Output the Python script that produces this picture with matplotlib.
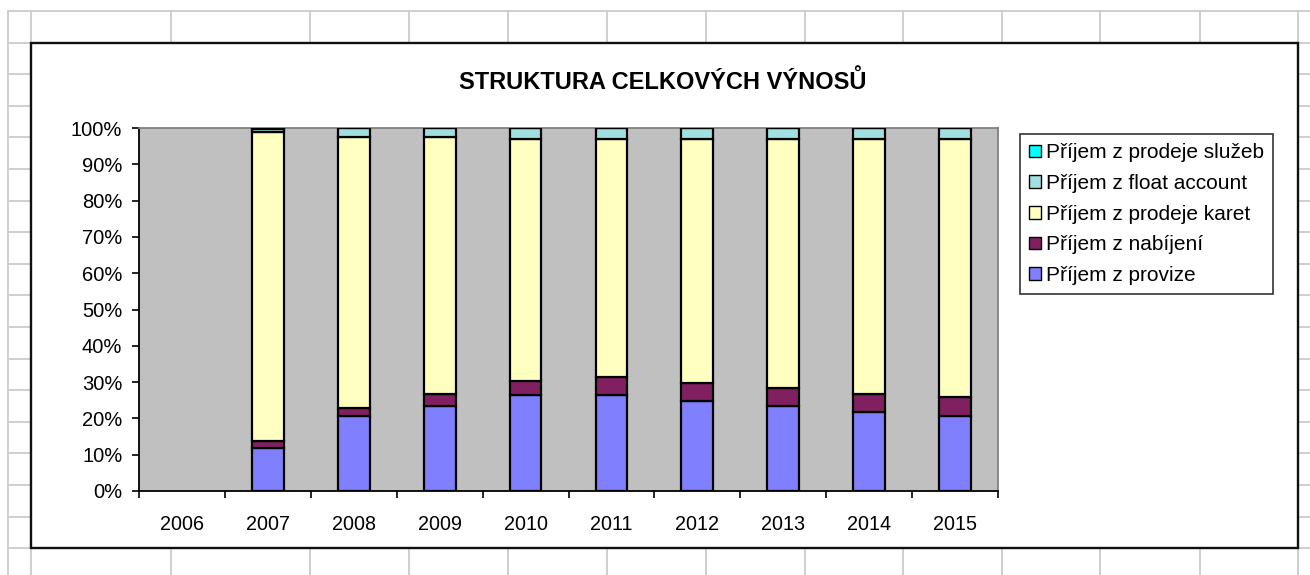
import numpy as np
import matplotlib
matplotlib.use("Agg")
import matplotlib.pyplot as plt
from matplotlib.patches import Rectangle, Patch
from matplotlib.lines import Line2D
from matplotlib.ticker import FuncFormatter

plt.rcParams['font.family'] = ['Liberation Sans', 'DejaVu Sans']

# ---- data (percent shares) ----
years = ["2006", "2007", "2008", "2009", "2010", "2011", "2012", "2013", "2014", "2015"]
series_names = ["Příjem z provize", "Příjem z nabíjení", "Příjem z prodeje karet",
                "Příjem z float account", "Příjem z prodeje služeb"]
provize = [0, 11.9, 20.7, 23.4, 26.4, 26.4, 24.9, 23.4, 21.8, 20.7]
nabijeni = [0, 2.0, 2.3, 3.3, 4.0, 5.0, 4.9, 4.9, 4.9, 5.1]
karet = [0, 85.1, 74.4, 70.7, 66.5, 65.5, 67.1, 68.6, 70.2, 71.1]
float_account = [0, 0.6, 2.5, 2.5, 3.0, 3.0, 3.0, 3.0, 3.0, 3.0]
sluzeb = [0, 0.4, 0.1, 0.1, 0.1, 0.1, 0.1, 0.1, 0.1, 0.1]
colors = ["#8080FF", "#802060", "#FFFFC0", "#A0E0E0", "#00FFFF"]
title = "STRUKTURA CELKOVÝCH VÝNOSŮ"

W, H = 1310, 575
fig = plt.figure(figsize=(W / 100, H / 100), dpi=100)
fig.patch.set_facecolor("white")

def fx(px):
    return px / W

def fy(py):
    return 1 - py / H

# spreadsheet grid background
grid_col = "#CCCCCC"
col_x = [8, 31, 171, 310, 409, 508, 607, 706, 805, 903, 1002, 1100, 1200, 1298]
for xx in col_x:
    fig.add_artist(Line2D([fx(xx), fx(xx)], [fy(11), 0], color=grid_col, lw=1.3, zorder=0))
row_y = [11 + 31.6 * i for i in range(19)]
for yy in row_y:
    if yy < H:
        fig.add_artist(Line2D([fx(8), 1], [fy(yy), fy(yy)], color=grid_col, lw=1.3, zorder=0))

# chart area box
fig.add_artist(Rectangle((fx(31), fy(548)), fx(1298) - fx(31), fy(42.5) - fy(548),
                         transform=fig.transFigure, facecolor="white",
                         edgecolor="#101010", lw=1.7, zorder=1))

ax = fig.add_axes([fx(139), fy(491), fx(998) - fx(139), fy(128) - fy(491)])
ax.set_zorder(2)
ax.set_facecolor("#C0C0C0")

data = np.array([provize, nabijeni, karet, float_account, sluzeb], dtype=float)
totals = data.sum(axis=0)
totals[totals == 0] = 1
shares = data / totals

x = np.arange(len(years))
bottom = np.zeros(len(years))
handles = []
for vals, name, c in zip(shares, series_names, colors):
    lws = [1.6 if v > 0 else 0 for v in vals]
    ax.bar(x, vals, width=0.37, bottom=bottom, color=c, edgecolor="black", linewidth=lws, zorder=3)
    bottom += vals
    handles.append(Patch(facecolor=c, edgecolor="black", linewidth=1.0, label=name))

ax.set_xlim(-0.5, len(years) - 0.5)
ax.set_ylim(0, 1)
ax.set_yticks(np.arange(0, 1.01, 0.1))
ax.yaxis.set_major_formatter(FuncFormatter(lambda v, p: f"{int(round(v * 100))}%"))
ax.set_xticks(np.arange(-0.5, len(years), 1.0))
ax.set_xticklabels([])
ax.set_xticks(x, minor=True)
ax.set_xticklabels(years, minor=True)
ax.tick_params(axis="x", which="major", length=5, width=1.2, direction="out", color="black")
ax.tick_params(axis="x", which="minor", length=0, pad=17, labelsize=14.2)
ax.tick_params(axis="y", length=5, width=1.2, direction="out", labelsize=14.5, pad=7)

for s in ["left", "bottom"]:
    ax.spines[s].set_color("black")
    ax.spines[s].set_linewidth(1.3)
for s in ["top", "right"]:
    ax.spines[s].set_color("#808080")
    ax.spines[s].set_linewidth(1.3)

fig.text(fx(663), fy(82), title, ha="center", va="center", fontsize=17, fontweight="bold")

leg = fig.legend(handles=handles[::-1], loc="upper left",
                 bbox_to_anchor=(fx(1020), fy(134)), bbox_transform=fig.transFigure,
                 frameon=True, fancybox=False, fontsize=15, handlelength=0.55, handleheight=0.55,
                 handletextpad=0.25, labelspacing=0.56, borderpad=0.45, borderaxespad=0)
leg.get_frame().set_edgecolor("black")
leg.get_frame().set_linewidth(1.2)
leg.set_zorder(5)

fig.savefig("out.png", dpi=100, facecolor="white")
